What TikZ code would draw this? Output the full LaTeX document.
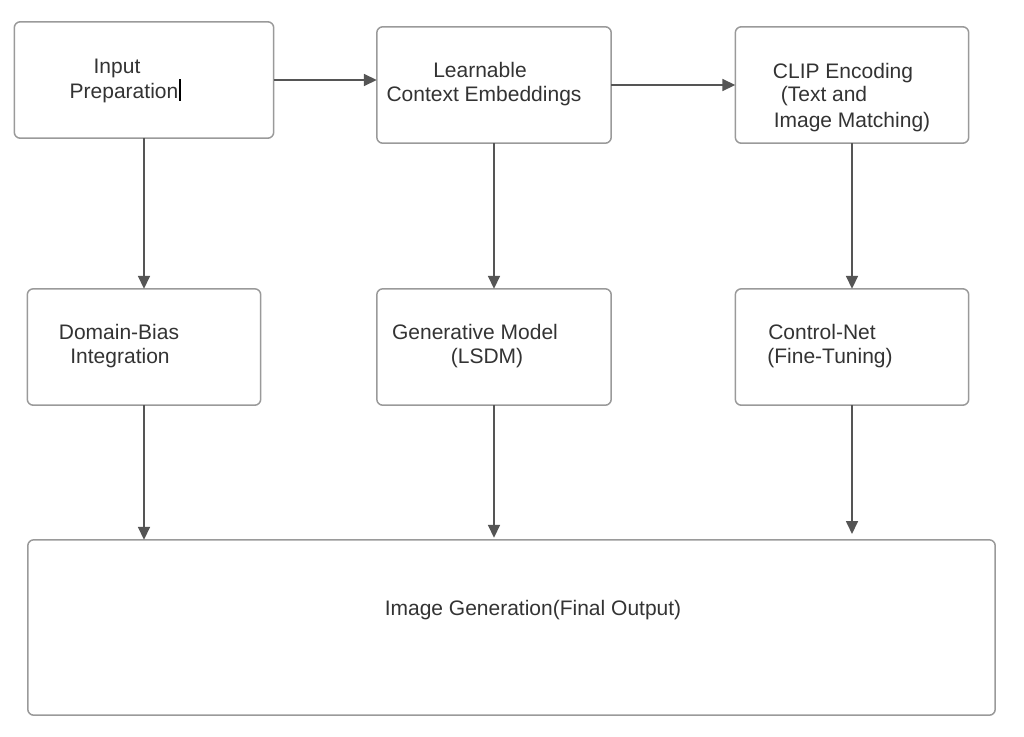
\documentclass[tikz,border=0pt]{standalone}
\usepackage{fontspec}
\setmainfont{Liberation Sans}
\usetikzlibrary{arrows.meta}
\definecolor{boxline}{HTML}{9A9A9A}
\definecolor{arrline}{HTML}{555555}
\definecolor{txt}{HTML}{333333}
\begin{document}
\begin{tikzpicture}[x=1pt,y=-1pt,
  blk/.style={draw=boxline,line width=1.5pt,rounded corners=6pt,fill=white},
  lbl/.style={anchor=base,inner sep=0pt,text=txt,font=\fontsize{21}{25}\selectfont},
  arr/.style={draw=arrline,line width=1.7pt,-{Triangle[length=13pt,width=12pt]}}]
\useasboundingbox (0,0) rectangle (1024,736);
\fill[white] (0,0) rectangle (1024,736);
% box anchors
\node[inner sep=0pt,minimum width=259pt,minimum height=116pt] (inp) at (144,80) {};
\node[inner sep=0pt,minimum width=234pt,minimum height=116pt] (lce) at (494,85) {};
\node[inner sep=0pt,minimum width=233pt,minimum height=116pt] (clip) at (852,85) {};
\node[inner sep=0pt,minimum width=233pt,minimum height=116pt] (dbi) at (144,347) {};
\node[inner sep=0pt,minimum width=234pt,minimum height=116pt] (gen) at (494,347) {};
\node[inner sep=0pt,minimum width=233pt,minimum height=116pt] (ctl) at (852,347) {};
\node[inner sep=0pt,minimum width=967pt,minimum height=175pt] (img) at (511.5,627.5) {};
% boxes
\draw[blk] (inp.south west) rectangle (inp.north east);
\draw[blk] (lce.south west) rectangle (lce.north east);
\draw[blk] (clip.south west) rectangle (clip.north east);
\draw[blk] (dbi.south west) rectangle (dbi.north east);
\draw[blk] (gen.south west) rectangle (gen.north east);
\draw[blk] (ctl.south west) rectangle (ctl.north east);
\draw[blk] (img.south west) rectangle (img.north east);
% labels
\node[lbl] (t1a) at (117,73) {Input};
\node[lbl] (t1b) at (124,98) {Preparation};
\fill[black] (178.5,79) rectangle (180.5,101);
\node[lbl] (t2a) at (480,77) {Learnable};
\node[lbl] (t2b) at (484,101) {Context Embeddings};
\node[lbl] (t3a) at (843,78) {CLIP Encoding};
\node[lbl] (t3b) at (824,101) {(Text and};
\node[lbl] (t3c) at (852,127) {Image Matching)};
\node[lbl] (t4a) at (119,339) {Domain-Bias};
\node[lbl] (t4b) at (120,363) {Integration};
\node[lbl] (t5a) at (475,339) {Generative Model};
\node[lbl] (t5b) at (487,363) {(LSDM)};
\node[lbl] (t6a) at (822,339) {Control-Net};
\node[lbl] (t6b) at (830,363) {(Fine-Tuning)};
\node[lbl] (t7) at (533,615) {Image Generation(Final Output)};
% connectors
\draw[arr] (inp.east |- 0,80) -- (lce.west |- 0,80);
\draw[arr] (lce.east) -- (clip.west);
\draw[arr] (inp.south) -- (dbi.north);
\draw[arr] (lce.south) -- (gen.north);
\draw[arr] (clip.south) -- (ctl.north);
\draw[arr] (dbi.south) -- (img.north -| dbi.south);
\draw[arr] (gen.south) -- ([yshift=2pt]img.north -| gen.south);
\coordinate (ctlend) at (852,534);
\draw[arr] (ctl.south) -- (ctlend);
\end{tikzpicture}
\end{document}
